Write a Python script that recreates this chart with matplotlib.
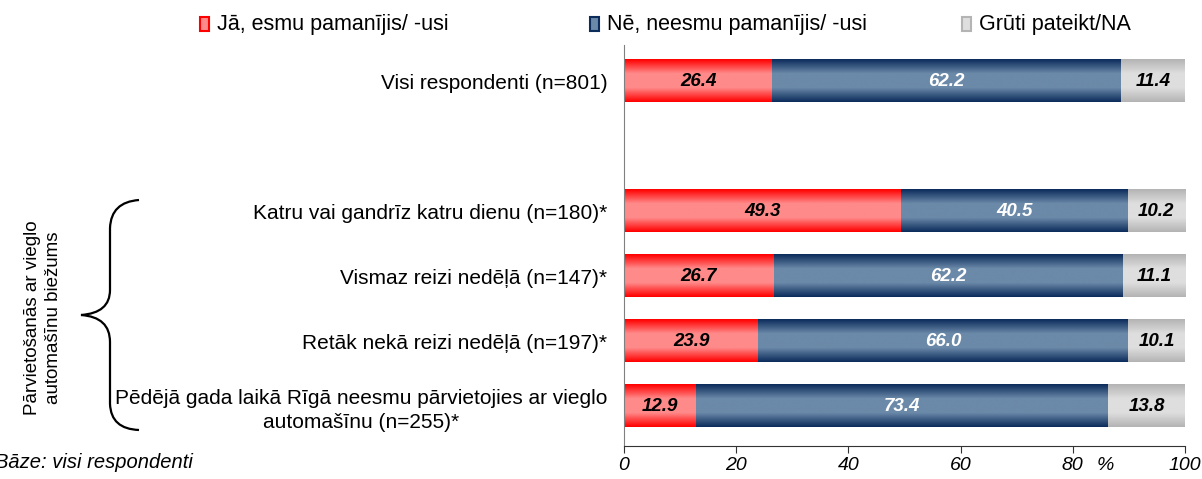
import numpy as np
import matplotlib
matplotlib.use('Agg')
import matplotlib.pyplot as plt
from matplotlib.colors import LinearSegmentedColormap
from matplotlib.path import Path
from matplotlib.patches import PathPatch, Rectangle

plt.rcParams['font.family'] = ['Liberation Sans', 'DejaVu Sans']

# data
categories = ['Visi respondenti (n=801)',
              'Katru vai gandrīz katru dienu (n=180)*',
              'Vismaz reizi nedēļā (n=147)*',
              'Retāk nekā reizi nedēļā (n=197)*',
              'Pēdējā gada laikā Rīgā neesmu pārvietojies ar vieglo\nautomašīnu (n=255)*']
positions = [0, 2, 3, 4, 5]
yes_vals = [26.4, 49.3, 26.7, 23.9, 12.9]
no_vals = [62.2, 40.5, 62.2, 66.0, 73.4]
na_vals = [11.4, 10.2, 11.1, 10.1, 13.8]
series_names = ['Jā, esmu pamanījis/ -usi', 'Nē, neesmu pamanījis/ -usi', 'Grūti pateikt/NA']
xticks = [0, 20, 40, 60, 80, 100]
xticklabels = ['0', '20', '40', '60', '80', '100']

# edge colour, middle colour, label colour
styles = [('#ff0000', '#ff8a8a', 'black'),
          ('#0c2c5c', '#6b89a8', 'white'),
          ('#b4b4b4', '#dedede', 'black')]

W, H = 1202, 479
fig = plt.figure(figsize=(W / 100, H / 100), dpi=100)
ax = fig.add_axes([624 / W, 1 - 446 / H, (1185 - 624) / W, (446 - 45) / H])

grad = np.linspace(0, 1, 64).reshape(-1, 1)
left = np.zeros(len(positions))
for vals, (c_edge, c_mid, c_txt) in zip([yes_vals, no_vals, na_vals], styles):
    bars = ax.barh(positions, vals, left=left, height=0.66, color='none', edgecolor='none')
    cmap = LinearSegmentedColormap.from_list('g', [c_edge, c_mid, c_mid, c_edge])
    for b, v in zip(bars, vals):
        x0, y0, w, h = b.get_x(), b.get_y(), b.get_width(), b.get_height()
        ax.imshow(grad, extent=(x0, x0 + w, y0, y0 + h), cmap=cmap, aspect='auto',
                  interpolation='bilinear', zorder=2)
        ax.text(x0 + w / 2, y0 + h / 2, f'{v:.1f}', ha='center', va='center',
                color=c_txt, fontsize=13.5, fontweight='bold', fontstyle='italic', zorder=3)
    left = left + np.array(vals)

ax.set_xlim(0, 100)
ax.set_ylim(5.615, -0.554)
ax.set_xticks(xticks)
ax.set_xticklabels(xticklabels, fontstyle='italic', fontsize=14)
ax.tick_params(axis='x', direction='out', length=5, pad=3, color='#333333')
ax.set_yticks(positions)
ax.set_yticklabels(categories, fontsize=15, multialignment='center', linespacing=1.35)
ax.tick_params(axis='y', length=0, pad=12)
for s in ['top', 'right']:
    ax.spines[s].set_visible(False)
ax.spines['left'].set_color('#808080')
ax.spines['bottom'].set_color('#333333')

# overlay axes in pixel coordinates for legend, brace and notes
ov = fig.add_axes([0, 0, 1, 1], facecolor='none')
ov.set_xlim(0, W)
ov.set_ylim(H, 0)
ov.axis('off')

leg_x = [200, 590, 962]
for x, name, (c_edge, c_mid, _) in zip(leg_x, series_names, styles):
    ov.add_patch(Rectangle((x, 17), 9, 14, facecolor=c_mid, edgecolor=c_edge, lw=1.5))
    ov.text(x + 17, 24, name, ha='left', va='center', fontsize=15.5)

ov.text(1105, 465, '%', ha='center', va='center', fontsize=14, fontstyle='italic')

verts = [(139, 200), (111, 202), (110, 228),
         (110, 290),
         (110, 313), (81, 315),
         (110, 317), (110, 342),
         (110, 404),
         (111, 429), (139, 430)]
codes = [Path.MOVETO, Path.CURVE3, Path.CURVE3,
         Path.LINETO,
         Path.CURVE3, Path.CURVE3,
         Path.CURVE3, Path.CURVE3,
         Path.LINETO,
         Path.CURVE3, Path.CURVE3]
ov.add_patch(PathPatch(Path(verts, codes), facecolor='none', edgecolor='black', lw=1.6))

ov.text(43, 318, 'Pārvietošanās ar vieglo\nautomašīnu biežums', rotation=90,
        ha='center', va='center', fontsize=13.5, multialignment='center', linespacing=1.3)
ov.text(-5, 462, 'Bāze: visi respondenti', ha='left', va='center', fontsize=14.5,
        fontstyle='italic')

fig.savefig('out.png', dpi=100)
